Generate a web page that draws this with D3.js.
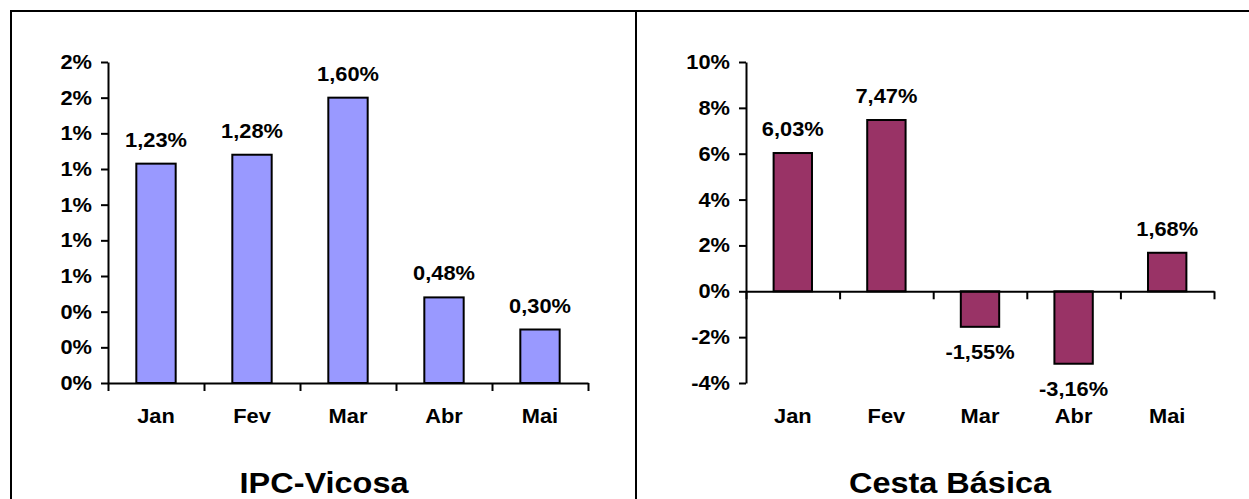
<!DOCTYPE html>
<html>
<head>
<meta charset="utf-8">
<script src="https://cdn.jsdelivr.net/npm/d3@7"></script>
<style>
  html, body { margin: 0; padding: 0; background: #fff; }
  svg { display: block; }
  text { font-family: "Liberation Sans", Arial, sans-serif; font-weight: bold; fill: #000; }
</style>
</head>
<body>
<svg id="chart" width="1249" height="499"></svg>
<script>
// ---- data ----
const months = ["Jan", "Fev", "Mar", "Abr", "Mai"];
const ipcValues = [1.23, 1.28, 1.60, 0.48, 0.30];
const ipcLabels = ["1,23%", "1,28%", "1,60%", "0,48%", "0,30%"];
const ipcTicks = [0, 0.2, 0.4, 0.6, 0.8, 1.0, 1.2, 1.4, 1.6, 1.8];
const ipcTickLabels = ["0%", "0%", "0%", "1%", "1%", "1%", "1%", "1%", "2%", "2%"];
const cestaValues = [6.03, 7.47, -1.55, -3.16, 1.68];
const cestaLabels = ["6,03%", "7,47%", "-1,55%", "-3,16%", "1,68%"];
const cestaTicks = [-4, -2, 0, 2, 4, 6, 8, 10];
const cestaTickLabels = ["-4%", "-2%", "0%", "2%", "4%", "6%", "8%", "10%"];
const titles = ["IPC-Vicosa", "Cesta Básica"];

const svg = d3.select("#chart");
const SX = 1.12;

function label(x, y, str, size, anchor) {
  svg.append("g").attr("transform", `translate(${x},${y})`)
    .append("text")
    .attr("transform", `scale(${SX},1)`)
    .attr("text-anchor", anchor)
    .style("font-size", size + "px")
    .text(str);
}

// frame
svg.append("rect").attr("x", 11).attr("y", 11).attr("width", 1250).attr("height", 520)
  .attr("fill", "none").attr("stroke", "#000").attr("stroke-width", 2);
svg.append("line").attr("x1", 636).attr("x2", 636).attr("y1", 11).attr("y2", 499)
  .attr("stroke", "#000").attr("stroke-width", 2);

function panel(opts) {
  const { x0, x1, yTop, yBot, domain, values, vlabels, ticks, tickLabels, fill, title, titleX } = opts;
  const x = d3.scaleBand().domain(months).range([x0, x1]).padding(0);
  const y = d3.scaleLinear().domain(domain).range([yBot, yTop]);
  const barW = x.bandwidth() * 0.41;
  const zeroY = y(0);

  // bars
  svg.append("g").selectAll("rect").data(values).join("rect")
    .attr("x", (d, i) => x(months[i]) + x.bandwidth() / 2 - barW / 2)
    .attr("y", d => d >= 0 ? y(d) : zeroY)
    .attr("width", barW)
    .attr("height", d => Math.abs(y(d) - zeroY))
    .attr("fill", fill).attr("stroke", "#000").attr("stroke-width", 2);

  // y axis
  const yAxis = d3.axisLeft(y).tickValues(ticks).tickSize(7).tickSizeOuter(0).tickFormat("");
  const gy = svg.append("g").attr("transform", `translate(${x0},0)`).call(yAxis);
  gy.selectAll("path,line").attr("stroke", "#000").attr("stroke-width", 2);
  ticks.forEach((t, i) => label(x0 - 16, y(t) + 7, tickLabels[i], 19.5, "end"));

  // x axis at zero
  const boundaries = months.map(m => x(m)).concat([x1]);
  const xb = d3.scaleLinear().domain([x0, x1]).range([x0, x1]);
  const xAxis = d3.axisBottom(xb).tickValues(boundaries).tickSize(8).tickSizeOuter(0).tickFormat("");
  const gx = svg.append("g").attr("transform", `translate(0,${zeroY})`).call(xAxis);
  gx.selectAll("path,line").attr("stroke", "#000").attr("stroke-width", 2);

  // category labels
  months.forEach(m => label(x(m) + x.bandwidth() / 2, 423, m, 19.5, "middle"));

  // value labels
  values.forEach((v, i) => {
    const cx = x(months[i]) + x.bandwidth() / 2;
    const ly = v >= 0 ? y(v) - 17 : y(v) + 32;
    label(cx, ly, vlabels[i], 19.5, "middle");
  });

  label(titleX, 493, title, 29, "middle");
}

panel({ x0: 108, x1: 588, yTop: 62, yBot: 383, domain: [0, 1.8], values: ipcValues, vlabels: ipcLabels,
  ticks: ipcTicks, tickLabels: ipcTickLabels, fill: "#9999FF", title: titles[0], titleX: 324 });
panel({ x0: 746, x1: 1214, yTop: 62, yBot: 383, domain: [-4, 10], values: cestaValues, vlabels: cestaLabels,
  ticks: cestaTicks, tickLabels: cestaTickLabels, fill: "#993366", title: titles[1], titleX: 950 });
</script>
</body>
</html>
